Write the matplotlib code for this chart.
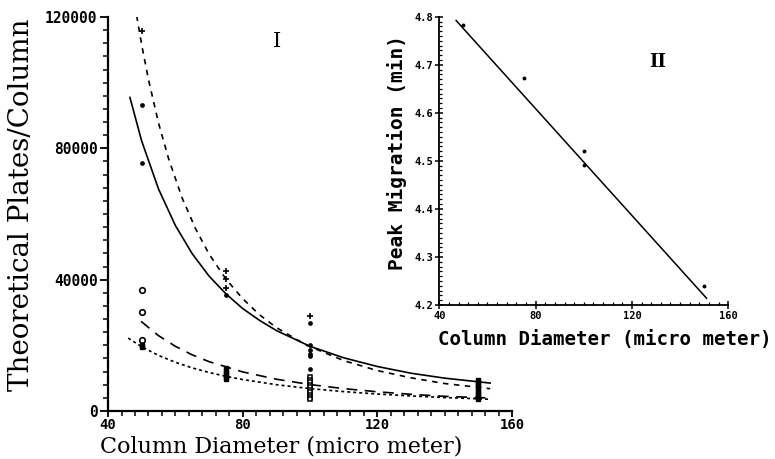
import matplotlib.pyplot as plt
from matplotlib.ticker import MultipleLocator

# --- panel I: fitted curves ---
solid_x = [46.5, 50, 55, 60, 65, 70, 75, 80, 85, 90, 100, 110, 120, 130,
           140, 153.5]
solid_y = [95500, 82200, 67600, 56500, 47900, 41100, 35700, 31200, 27600,
           24500, 19700, 16200, 13550, 11500, 10000, 8500]

dash_x = [48.5, 50, 52, 55, 58, 62, 66, 70, 75, 80, 85, 90, 99, 110, 120,
          130, 140, 153.5]
dash_y = [120400, 111500, 101000, 87700, 76800, 64900, 55500, 47800, 40200,
          34200, 29300, 25400, 20000, 15350, 12300, 10100, 8360, 6800]

longdash_x = [49.8, 55, 60, 65, 70, 80, 90, 100, 110, 120, 130, 140, 153.5]
longdash_y = [27300, 22940, 19700, 17100, 15030, 11900, 9680, 8050, 6810,
              5850, 5080, 4460, 3950]

dotted_x = [46, 50, 55, 60, 65, 70, 75, 80, 90, 100, 110, 120, 130, 140,
            153.5]
dotted_y = [22200, 19560, 16920, 14830, 13130, 11730, 10560, 9580, 8010,
            6820, 5900, 5170, 4580, 4090, 3580]

# --- panel I: measured points ---
plus_x = [50, 75, 75, 75, 100]
plus_y = [115800, 42500, 40200, 37500, 29000]

dot_x = [50, 50, 75, 100, 100, 100, 100, 100, 100]
dot_y = [93200, 75400, 35200, 26800, 20150, 18600, 17400, 16600, 12700]

circle_x = [50, 50, 50]
circle_y = [36900, 30100, 21500]

open_sq_x = [100, 100, 100, 100, 100, 100, 100, 100, 100, 100]
open_sq_y = [10300, 9500, 8700, 8000, 7200, 6500, 5700, 4900, 4200, 3600]

filled_sq_x = [50, 50, 75, 75, 75, 75, 75, 75,
               150, 150, 150, 150, 150, 150, 150, 150, 150, 150]
filled_sq_y = [20100, 19400, 13000, 12300, 11600, 11000, 10400, 9800,
               9400, 8800, 8200, 7500, 6900, 6200, 5500, 4800, 4200, 3600]

# --- panel II ---
fit_x = [47, 151]
fit_y = [4.792, 4.214]
mig_x = [50, 75, 100, 100, 150]
mig_y = [4.783, 4.672, 4.521, 4.491, 4.239]

fig = plt.figure(figsize=(7.75, 4.59), dpi=100)

ax = fig.add_axes([0.1394, 0.1046, 0.5213, 0.8584])
ax.plot(solid_x, solid_y, color='black', lw=1.2)
ax.plot(dash_x, dash_y, color='black', lw=1.2, dashes=(3.3, 3.3))
ax.plot(longdash_x, longdash_y, color='black', lw=1.2, dashes=(6.5, 4.5))
ax.plot(dotted_x, dotted_y, color='black', lw=1.2, dashes=(1.8, 1.8))

ax.plot(plus_x, plus_y, '+', color='black', ms=5, mew=1.2)
ax.plot(dot_x, dot_y, 'o', color='black', ms=2.4)
ax.plot(circle_x, circle_y, 'o', mfc='white', mec='black', ms=4, mew=1.2)
ax.plot(open_sq_x, open_sq_y, 's', mfc='white', mec='black', ms=3, mew=1.1)
ax.plot(filled_sq_x, filled_sq_y, 's', color='black', ms=3)

ax.set_xlim(40, 160)
ax.set_ylim(0, 120000)
ax.xaxis.set_major_locator(MultipleLocator(40))
ax.xaxis.set_minor_locator(MultipleLocator(4))
ax.yaxis.set_major_locator(MultipleLocator(40000))
ax.yaxis.set_minor_locator(MultipleLocator(4000))
for s in ['top', 'right']:
    ax.spines[s].set_visible(False)
for s in ['left', 'bottom']:
    ax.spines[s].set_linewidth(1.6)
ax.tick_params(axis='x', which='major', direction='out', length=4.5,
               width=1.3, labelsize=10, pad=0.5)
ax.tick_params(axis='y', which='major', direction='out', length=6,
               width=1.3, labelsize=10.5, pad=1.5)
ax.tick_params(which='minor', direction='out', length=3.5, width=1.1)
for lab in ax.get_xticklabels() + ax.get_yticklabels():
    lab.set_family('DejaVu Sans Mono')
    lab.set_weight('bold')
fig.text(276.7 / 775, 1 - 41.7 / 459, 'I', family='DejaVu Serif',
         fontsize=15, ha='center', va='center')

fig.text(22 / 775, 1 - 205 / 459, 'Theoretical Plates/Column',
         family='DejaVu Serif', fontsize=20, rotation=90,
         ha='center', va='center')
fig.text(281 / 775, 1 - 446 / 459, 'Column Diameter (micro meter)',
         family='DejaVu Serif', fontsize=16, ha='center', va='center')

# inset panel II
ax2 = fig.add_axes([0.5668, 0.3355, 0.3729, 0.6281])
ax2.plot(fit_x, fit_y, color='black', lw=1.1)
ax2.plot(mig_x, mig_y, 'o', color='black', ms=1.8)
ax2.set_xlim(40, 160)
ax2.set_ylim(4.2, 4.8)
ax2.xaxis.set_major_locator(MultipleLocator(40))
ax2.xaxis.set_minor_locator(MultipleLocator(4))
ax2.yaxis.set_major_locator(MultipleLocator(0.1))
ax2.yaxis.set_minor_locator(MultipleLocator(0.01))
for s in ['top', 'right']:
    ax2.spines[s].set_visible(False)
for s in ['left', 'bottom']:
    ax2.spines[s].set_linewidth(1.3)
ax2.tick_params(which='major', direction='inout', length=6, width=1.1,
                labelsize=7.5, pad=1)
ax2.tick_params(which='minor', direction='in', length=2.5, width=0.9)
for lab in ax2.get_xticklabels() + ax2.get_yticklabels():
    lab.set_family('DejaVu Sans Mono')
    lab.set_weight('bold')
fig.text(658 / 775, 1 - 62 / 459, 'II', family='DejaVu Serif',
         fontsize=13, weight='bold', ha='center', va='center')

fig.text(397 / 775, 1 - 152 / 459, 'Peak Migration (min)',
         family='DejaVu Sans Mono', fontsize=14, weight='bold',
         rotation=90, ha='center', va='center')
fig.text(605 / 775, 1 - 340 / 459, 'Column Diameter (micro meter)',
         family='DejaVu Sans Mono', fontsize=13.8, weight='bold',
         ha='center', va='center')

fig.savefig('out.png', dpi=100)
